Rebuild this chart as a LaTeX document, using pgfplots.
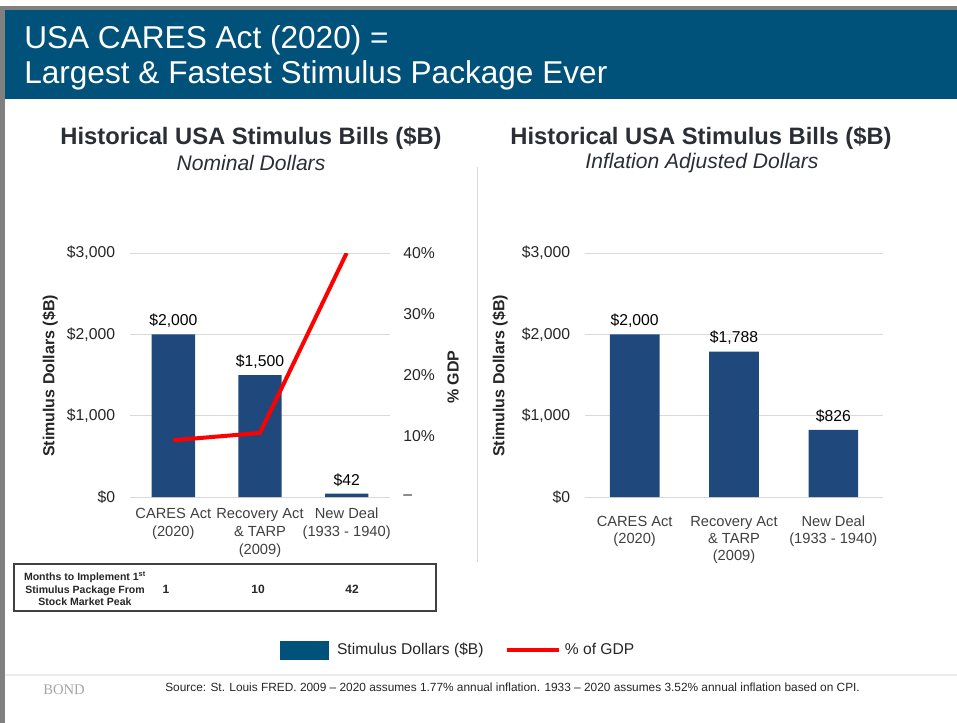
\documentclass[border=0pt]{standalone}
\usepackage{pgfplots}
\pgfplotsset{compat=1.18}
\usepackage{fontspec}
\setmainfont{Liberation Sans}
\newfontfamily\bondfont{Liberation Serif}
\definecolor{hdr}{HTML}{00527A}
\definecolor{barc}{HTML}{1F497D}
\definecolor{gridc}{HTML}{D9D9D9}
\definecolor{txt}{HTML}{262626}
\definecolor{ttl}{HTML}{2A2E35}
\definecolor{cat}{HTML}{404040}
\definecolor{framec}{HTML}{808080}
\begin{document}
\begin{tikzpicture}
\begin{scope}[x=0.75pt,y=-0.75pt]
\useasboundingbox (0,0) rectangle (957,723);
\fill[white] (0,0) rectangle (957,723);
\fill[framec] (0,6) rectangle (957,10);
\fill[framec] (0,6) rectangle (5,723);
\fill[hdr] (5,10) rectangle (957,99);
\node[anchor=west, inner sep=0pt, white, font=\fontsize{23.7}{28}\selectfont] at (24,40) {USA CARES Act (2020) =};
\node[anchor=west, inner sep=0pt, white, font=\fontsize{23.7}{28}\selectfont] at (24,75) {Largest \& Fastest Stimulus Package Ever};
% panel titles
\node[ttl, inner sep=0pt, font=\bfseries\fontsize{17.8}{20}\selectfont] at (251,138) {Historical USA Stimulus Bills (\$B)};
\node[ttl, inner sep=0pt, font=\itshape\fontsize{15.8}{18}\selectfont] at (251,163) {Nominal Dollars};
\node[ttl, inner sep=0pt, font=\bfseries\fontsize{17.8}{20}\selectfont] at (701,138) {Historical USA Stimulus Bills (\$B)};
\node[ttl, inner sep=0pt, font=\itshape\fontsize{15.8}{18}\selectfont] at (702,163) {Inflation Adjusted Dollars};
% separators
\draw[gridc, line width=0.75pt] (477,167) -- (477,562);
\draw[black!8, line width=1.5pt] (5,675) -- (957,675);
% axis labels
\node[txt, rotate=90, inner sep=0pt, font=\bfseries\fontsize{12}{14}\selectfont] at (50,376) {Stimulus Dollars (\$B)};
\node[txt, rotate=90, inner sep=0pt, font=\bfseries\fontsize{12}{14}\selectfont] at (500,376) {Stimulus Dollars (\$B)};
\node[txt, rotate=90, inner sep=0pt, font=\bfseries\fontsize{12}{14}\selectfont] at (453,377) {\% GDP};
% months table
\draw[cat, line width=0.9pt] (14,564) rectangle (436,611);
\node[txt, inner sep=0pt, align=center, font=\bfseries\fontsize{7.9}{9.4}\selectfont] at (85,589) {Months to Implement 1\textsuperscript{st}\\Stimulus Package From\\Stock Market Peak};
\node[txt, inner sep=0pt, font=\bfseries\fontsize{9}{11}\selectfont] at (166,589) {1};
\node[txt, inner sep=0pt, font=\bfseries\fontsize{9}{11}\selectfont] at (258,589) {10};
\node[txt, inner sep=0pt, font=\bfseries\fontsize{9}{11}\selectfont] at (352,589) {42};
% footer
\node[anchor=west, inner sep=0pt, black!35, font=\bondfont\fontsize{11}{13}\selectfont] at (43,690) {BOND};
\node[anchor=west, inner sep=0pt, txt, font=\fontsize{8.9}{10}\selectfont] at (165,687) {Source: St. Louis FRED. 2009 -- 2020 assumes 1.77\% annual inflation. 1933 -- 2020 assumes 3.52\% annual inflation based on CPI.};
\coordinate (L) at (130,497);
\coordinate (R) at (585,497);
\end{scope}

\pgfplotsset{
  mybars/.style={
    anchor=south west, scale only axis, height=183pt,
    xmin=-0.5, xmax=2.5, ymin=0, ymax=3000,
    xtick={0,1,2},
    ytick={0,1000,2000,3000}, yticklabels={{\$0},{\$1,000},{\$2,000},{\$3,000}},
    axis line style={draw=none}, major tick style={draw=none},
    ymajorgrids, grid style={gridc, line width=0.75pt},
    yticklabel style={anchor=east, inner sep=0pt, xshift=-11pt, font=\fontsize{11.8}{14}\selectfont, text=txt},
    ybar, bar width=0.5,
    nodes near coords, point meta=explicit symbolic,
    nodes near coords style={font=\fontsize{11.8}{14}\selectfont, text=black, anchor=south, inner sep=0pt, yshift=5pt},
  }
}

\begin{axis}[mybars, at={(L)}, width=195pt,
  xticklabels={{CARES Act\\(2020)},{Recovery Act\\\& TARP\\(2009)},{New Deal\\(1933 - 1940)}},
  xticklabel style={anchor=north, inner sep=0pt, yshift=-3.9pt, align=center, font=\fontsize{11}{13.5}\selectfont, text=cat},
]
\addplot[fill=barc, draw=none] coordinates {(0,2000) [\$2,000] (1,1500) [\$1,500] (2,42) [\$42]};
\end{axis}

\begin{axis}[at={(L)}, anchor=south west, scale only axis, width=195pt, height=183pt,
  xmin=-0.5, xmax=2.5, ymin=0, ymax=40,
  axis y line*=right, axis x line=none,
  ytick={0,10,20,30,40}, yticklabels={--,10\%,20\%,30\%,40\%},
  axis line style={draw=none}, major tick style={draw=none},
  yticklabel style={anchor=west, inner sep=0pt, xshift=9.75pt, font=\fontsize{11.8}{14}\selectfont, text=txt},
  legend columns=2,
  legend style={at={(1.265,-0.627)}, anchor=center, draw=none, fill=none,
    font=\fontsize{11.7}{14}\selectfont, text=txt,
    nodes={inner sep=3pt},
    /tikz/every even column/.append style={column sep=13pt}},
]
\addlegendimage{legend image code/.code={\fill[hdr] (0pt,-6.75pt) rectangle (36pt,6.75pt); \path (39.75pt,0pt);}}
\addlegendentry{Stimulus Dollars (\$B)}
\addplot[red, line width=3pt, legend image code/.code={\draw[red, line width=3pt] (0pt,0pt) -- (39pt,0pt);}] coordinates {(0,9.3) (1,10.5) (2,40)};
\addlegendentry{\% of GDP}
\end{axis}

\begin{axis}[mybars, at={(R)}, width=223.5pt,
  xticklabels={{CARES Act\\(2020)},{Recovery Act\\\& TARP\\(2009)},{New Deal\\(1933 - 1940)}},
  xticklabel style={anchor=north, inner sep=0pt, yshift=-10pt, align=center, font=\fontsize{11}{12.75}\selectfont, text=cat},
]
\addplot[fill=barc, draw=none] coordinates {(0,2000) [\$2,000] (1,1788) [\$1,788] (2,826) [\$826]};
\end{axis}
\end{tikzpicture}
\end{document}
